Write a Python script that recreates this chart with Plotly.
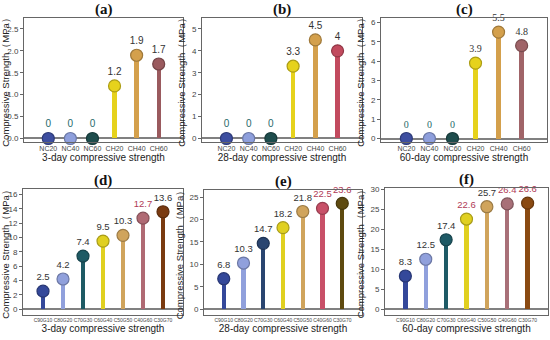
import plotly.graph_objects as go

# ---------------- data ----------------
cats_top = ["NC20", "NC40", "NC60", "CH20", "CH40", "CH60"]
cats_bot = ["C90G10", "C80G20", "C70G30", "C60G40", "C50G50", "C40G60", "C30G70"]

vals_a = [0, 0, 0, 1.2, 1.9, 1.7]
vals_b = [0, 0, 0, 3.3, 4.5, 4.0]
vals_c = [0, 0, 0, 3.9, 5.5, 4.8]
vals_d = [2.5, 4.2, 7.4, 9.5, 10.3, 12.7, 13.6]
vals_e = [6.8, 10.3, 14.7, 18.2, 21.8, 22.5, 23.6]
vals_f = [8.3, 12.5, 17.4, 22.6, 25.7, 26.4, 26.6]

err_a = [0, 0, 0, 0.04, 0.05, 0.05]
err_b = [0, 0, 0, 0.08, 0.08, 0.1]
err_c = [0, 0, 0, 0.08, 0.09, 0.1]
err_d = [0.15, 0.15, 0.2, 0.35, 0.3, 0.35, 0.35]
err_e = [0.25, 0.3, 0.4, 0.5, 0.5, 0.5, 0.5]
err_f = [0.3, 0.3, 0.6, 0.6, 0.6, 0.7, 0.7]

text_a = ["0", "0", "0", "1.2", "1.9", "1.7"]
text_b = ["0", "0", "0", "3.3", "4.5", "4"]
text_c = ["0", "0", "0", "3.9", "5.5", "4.8"]
text_d = ["2.5", "4.2", "7.4", "9.5", "10.3", "12.7", "13.6"]
text_e = ["6.8", "10.3", "14.7", "18.2", "21.8", "22.5", "23.6"]
text_f = ["8.3", "12.5", "17.4", "22.6", "25.7", "26.4", "26.6"]

titles = ["(a)", "(b)", "(c)", "(d)", "(e)", "(f)"]
xtitles = ["3-day compressive strength", "28-day compressive strength", "60-day compressive strength",
           "3-day compressive strength", "28-day compressive strength", "60-day compressive strength"]

# ---------------- styles ----------------
col_a = ["#3d4ea0", "#8e9fdc", "#1e4d4d", "#e6d21c", "#d4a04c", "#9a5a5e"]
col_b = ["#3d4ea0", "#8e9fdc", "#1e4d4d", "#e6d21c", "#d4a04c", "#c24a5e"]
col_c = ["#3d4ea0", "#8e9fdc", "#1e4d4d", "#e6d21c", "#d4a04c", "#a06468"]
col_d = ["#34489a", "#90a0dc", "#1e5a64", "#e0d020", "#d0a45c", "#b06a74", "#7a3a10"]
col_e = ["#34489a", "#90a0dc", "#2a4570", "#e0d020", "#d0a45c", "#c85068", "#5e4a10"]
col_f = ["#34489a", "#90a0dc", "#1e5a66", "#e0d020", "#d0a45c", "#a87078", "#8a4a12"]

teal = "#1f6a6a"
dark = "#333333"
red = "#b03a56"
tcol_a = [teal, teal, teal, dark, dark, dark]
tcol_b = [teal, teal, teal, dark, dark, dark]
tcol_c = [teal, teal, teal, dark, dark, dark]
tcol_d = [dark, dark, dark, dark, dark, red, dark]
tcol_e = [dark, dark, dark, dark, dark, red, red]
tcol_f = [dark, dark, dark, red, dark, red, red]

W, H = 550, 340
# panel boxes in pixels: (x0, x1, y0, y1)
boxes = [(24, 183, 18, 142), (202, 362, 18, 142), (381, 547, 18, 142),
         (23, 183, 189, 315), (204, 362, 190, 315), (385, 548, 188, 315)]
yranges = [[-0.08, 2.75], [-0.16, 5.5], [-0.18, 6.23],
           [-0.83, 16.78], [-1.3, 26.6], [-1.5, 30.4]]
ydtick = [0.5, 1, 1, 2, 5, 5]
ytickfmt = [".1f", "d", "d", "d", "d", "d"]

panels = [
    (cats_top, vals_a, err_a, text_a, col_a, tcol_a),
    (cats_top, vals_b, err_b, text_b, col_b, tcol_b),
    (cats_top, vals_c, err_c, text_c, col_c, tcol_c),
    (cats_bot, vals_d, err_d, text_d, col_d, tcol_d),
    (cats_bot, vals_e, err_e, text_e, col_e, tcol_e),
    (cats_bot, vals_f, err_f, text_f, col_f, tcol_f),
]


def darker(hexc, f=0.75):
    h = hexc.lstrip("#")
    r, g, b = int(h[0:2], 16), int(h[2:4], 16), int(h[4:6], 16)
    return "#%02x%02x%02x" % (int(r * f), int(g * f), int(b * f))


fig = go.Figure()
layout = dict(width=W, height=H, margin=dict(l=0, r=0, t=0, b=0, pad=0),
              template="none",
              paper_bgcolor="white", plot_bgcolor="white", showlegend=False,
              bargap=0, annotations=[])

for i, (cats, vals, errs, txt, cols, tcols) in enumerate(panels):
    n = i + 1
    xa = "x" if n == 1 else f"x{n}"
    ya = "y" if n == 1 else f"y{n}"
    top_row = i < 3
    stem_w = 0.2 if top_row else 0.22
    fig.add_trace(go.Bar(x=cats, y=vals, marker=dict(color=cols, line=dict(width=0)),
                         width=stem_w, xaxis=xa, yaxis=ya, hoverinfo="skip"))
    fig.add_trace(go.Scatter(
        x=cats, y=vals, mode="markers+text", text=txt, textposition="top center",
        textfont=dict(size=10 if top_row else 9.5, color=tcols,
                      family="Liberation Serif" if i == 2 else "Liberation Sans"),
        marker=dict(size=12, color=cols, line=dict(width=1.2, color=[darker(c) for c in cols])),
        error_y=dict(type="data", array=errs, color="black", thickness=1, width=1.5),
        xaxis=xa, yaxis=ya, cliponaxis=False))

    x0, x1, y0, y1 = boxes[i]
    ncat = len(cats)
    pad = 1.1 if top_row else 1.0
    axis_common = dict(showline=True, linecolor="#666666", linewidth=1, mirror=True,
                       showgrid=False, automargin=False)
    layout["xaxis" if n == 1 else f"xaxis{n}"] = dict(
        domain=[x0 / W, x1 / W], anchor=ya, type="category",
        categoryorder="array", categoryarray=cats,
        range=[-pad, ncat - 1 + pad], ticks="", tickangle=0, zeroline=False,
        tickfont=dict(size=7 if top_row else 5, color="#444444", family="Liberation Sans"),
        title=dict(text=xtitles[i], font=dict(size=10, color="#222222", family="Liberation Sans"),
                   standoff=1),
        **axis_common)
    layout["yaxis" if n == 1 else f"yaxis{n}"] = dict(
        domain=[1 - y1 / H, 1 - y0 / H], anchor=xa, range=yranges[i],
        dtick=ydtick[i], tick0=0, tickformat=ytickfmt[i],
        ticks="outside", ticklen=3, tickcolor="#666666",
        zeroline=True, zerolinecolor="#808080", zerolinewidth=1.5,
        tickfont=dict(size=8, color="#444444", family="Liberation Sans"),
        title=dict(text="Compressive Strength（MPa）",
                   font=dict(size=9.5, color="#222222", family="Liberation Sans"), standoff=4),
        **axis_common)
    layout["annotations"].append(dict(
        text="<b>%s</b>" % titles[i], x=(x0 + x1) / 2 / W, y=1 - (y0 - 9) / H,
        xref="paper", yref="paper", showarrow=False, xanchor="center", yanchor="middle",
        font=dict(size=15, family="Liberation Serif", color="#111111")))

fig.update_layout(**layout)
fig.write_html("out.html", config={"displayModeBar": False},
               post_script="document.body.style.margin='0';document.body.style.padding='0';")
